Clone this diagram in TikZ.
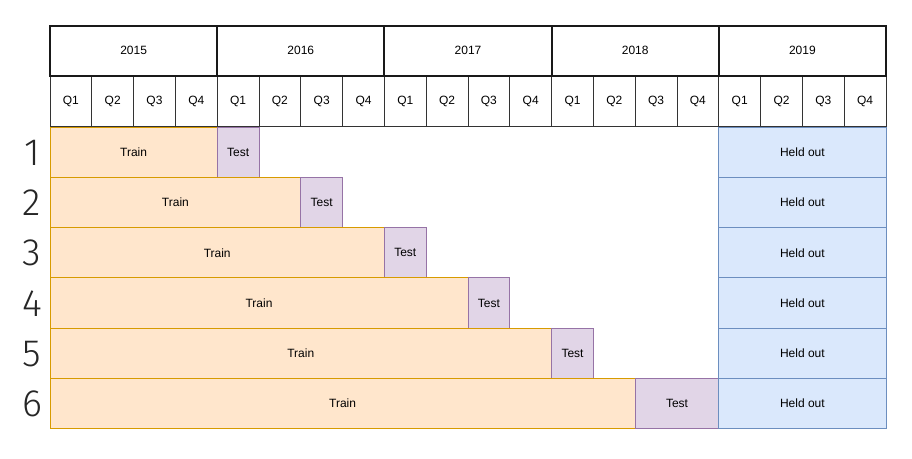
\documentclass[tikz,border=0pt]{standalone}
\usepackage{fontspec}
\setmainfont{Liberation Sans}
\newfontfamily\numfont{Fira Sans Light}
\definecolor{trainfill}{HTML}{FFE6CC}
\definecolor{traindraw}{HTML}{D79B00}
\definecolor{testfill}{HTML}{E1D5E7}
\definecolor{testdraw}{HTML}{9673A6}
\definecolor{heldfill}{HTML}{DAE8FC}
\definecolor{helddraw}{HTML}{6C8EBF}
\tikzset{
  cell/.style={anchor=north west, inner sep=0pt, outer sep=0pt, minimum height=50.3pt, font=\fontsize{12}{14}\selectfont},
  yearbox/.style={cell, draw=black!90, line width=2pt, minimum width=167.2pt},
  qbox/.style={cell, draw=black!80, line width=0.9pt, minimum width=41.8pt},
  trainbox/.style={cell, draw=traindraw, fill=trainfill, line width=1pt},
  testbox/.style={cell, draw=testdraw, fill=testfill, line width=1pt},
  heldbox/.style={cell, draw=helddraw, fill=heldfill, line width=1pt, minimum width=167.2pt},
  rownum/.style={font=\numfont\fontsize{38}{42}\selectfont, inner sep=0pt, text=black!85}
}
\begin{document}
\begin{tikzpicture}[x=1pt,y=-1pt]
\useasboundingbox (0,0) rectangle (912,458);
% quarters
\foreach \k in {0,...,19}{
  \pgfmathtruncatemacro{\qq}{mod(\k,4)+1}
  \node[qbox] (q\k) at ({50+41.8*\k},76) {Q\qq};
}
% years
\foreach \yr [count=\i from 0] in {2015,2016,2017,2018,2019}{
  \node[yearbox] (y\yr) at ({50+167.2*\i},25.7) {\yr};
}
% rows
\foreach \r/\tr/\te in {1/4/1,2/6/1,3/8/1,4/10/1,5/12/1,6/14/2}{
  \pgfmathsetmacro{\ytop}{127+50.3*(\r-1)}
  \node[trainbox, minimum width={41.8pt*\tr}] (train\r) at (50,\ytop) {Train};
  \node[testbox, minimum width={41.8pt*\te}] (test\r) at ({50+41.8*\tr},\ytop) {Test};
  \node[heldbox] (held\r) at (718.8,\ytop) {Held out};
  \node[rownum] (n\r) at (32,{\ytop+25.5}) {\r};
}
\end{tikzpicture}
\end{document}
